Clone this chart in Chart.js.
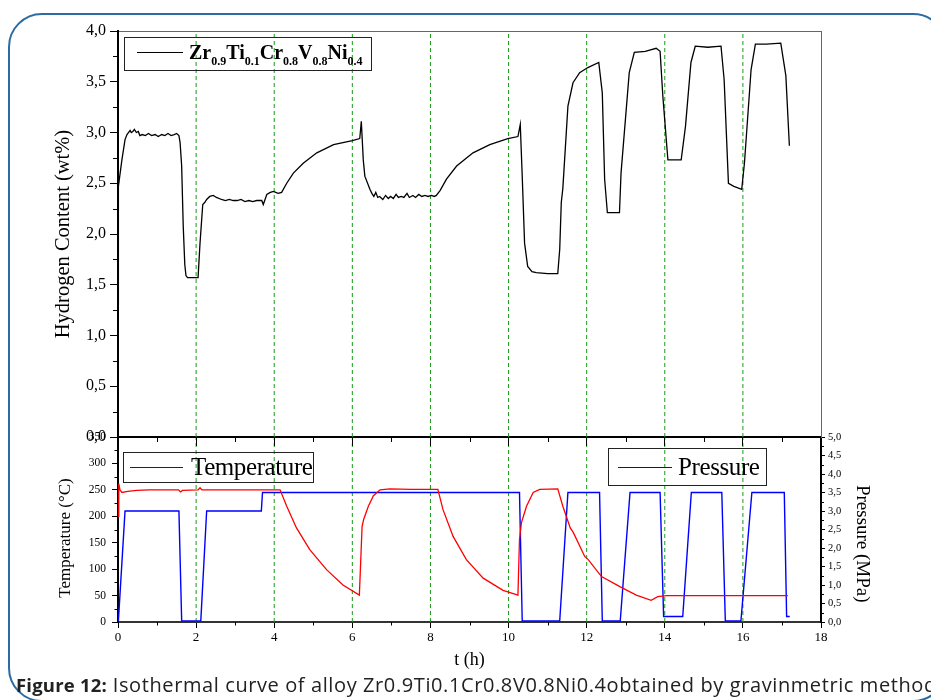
<!DOCTYPE html>
<html>
<head>
<meta charset="utf-8">
<script src="https://cdn.jsdelivr.net/npm/chart.js@4.4.0/dist/chart.umd.min.js"></script>
<style>
html,body{margin:0;padding:0;background:#fff;}
#wrap{position:relative;width:931px;height:700px;overflow:hidden;background:#fff;}
canvas{position:absolute;left:0;top:0;}
#frame{position:absolute;left:8px;top:13px;width:939px;height:689px;border:2px solid #2b6ca3;border-radius:34px;box-sizing:border-box;}
.box{position:absolute;border:1.5px solid #222;box-sizing:border-box;background:transparent;}
.ln{position:absolute;height:1px;}
.txt{position:absolute;white-space:nowrap;line-height:1;font-family:'Liberation Serif','Times New Roman',serif;color:#000;}
.txt span{font-size:12px;line-height:1;vertical-align:-6px;}
#cap{position:absolute;left:16px;top:675px;white-space:nowrap;line-height:1;font-family:'Open Sans',sans-serif;font-size:20px;letter-spacing:0.6px;color:#222;}
#cap b{font-size:18.5px;letter-spacing:0.2px;}
</style>
</head>
<body>
<div id="wrap">
  <div id="frame"></div>
  <canvas id="bot" width="931" height="700"></canvas>
  <canvas id="top" width="931" height="700"></canvas>
  <div class="box" style="left:124px;top:37px;width:248px;height:34px;"></div>
  <div class="ln" style="left:137px;top:52px;width:46px;background:#000;"></div>
  <div class="txt" style="left:189px;top:42px;font-size:20px;font-weight:bold;">Zr<span>0.9</span>Ti<span>0.1</span>Cr<span>0.8</span>V<span>0.8</span>Ni<span>0.4</span></div>
  <div class="box" style="left:123px;top:452px;width:191px;height:31px;"></div>
  <div class="ln" style="left:130px;top:467px;width:53px;background:#222;"></div>
  <div class="txt" style="left:191px;top:454px;font-size:25px;letter-spacing:-0.4px;">Temperature</div>
  <div class="box" style="left:608px;top:448px;width:159px;height:38px;"></div>
  <div class="ln" style="left:618px;top:467px;width:54px;background:#0000ff;"></div>
  <div class="txt" style="left:678px;top:454px;font-size:25px;letter-spacing:-0.4px;">Pressure</div>
  <div id="cap"><b>Figure 12:</b> Isothermal curve of alloy Zr0.9Ti0.1Cr0.8V0.8Ni0.4obtained by gravinmetric method</div>
</div>
<script>
// ---- data (time in hours) ----
const hydroT = [0,0.01,0.10,0.18,0.23,0.31,0.34,0.38,0.42,0.47,0.52,0.56,0.62,0.70,0.78,0.86,0.95,1.03,1.12,1.20,1.28,1.36,1.44,1.50,1.56,1.59,1.63,1.67,1.71,1.74,1.78,2.05,2.10,2.17,2.22,2.27,2.35,2.44,2.52,2.65,2.75,2.85,2.95,3.05,3.15,3.25,3.35,3.45,3.55,3.68,3.72,3.81,3.90,3.98,4.10,4.19,4.32,4.49,4.75,5.09,5.52,6.00,6.19,6.23,6.28,6.32,6.45,6.50,6.55,6.60,6.65,6.70,6.78,6.85,6.92,6.98,7.05,7.12,7.18,7.25,7.32,7.40,7.46,7.55,7.62,7.70,7.78,7.86,7.94,8.02,8.10,8.15,8.25,8.41,8.67,9.09,9.52,9.98,10.24,10.30,10.35,10.41,10.49,10.60,10.71,11.00,11.26,11.31,11.35,11.39,11.52,11.65,11.82,12.03,12.31,12.40,12.46,12.53,12.84,12.88,13.09,13.22,13.50,13.78,13.88,13.95,14.08,14.42,14.53,14.67,14.78,15.10,15.44,15.52,15.63,15.77,15.97,16.04,16.21,16.32,16.60,16.97,17.10,17.19];
const hydroH = [1.30,2.47,2.73,2.93,2.98,3.02,3.00,3.01,3.03,3.00,3.01,2.97,2.98,2.97,2.99,2.97,2.98,2.96,2.98,2.97,2.99,2.97,2.98,2.99,2.97,2.90,2.67,2.08,1.70,1.59,1.57,1.57,1.91,2.29,2.31,2.34,2.37,2.38,2.36,2.34,2.33,2.34,2.33,2.33,2.34,2.32,2.33,2.32,2.33,2.33,2.29,2.39,2.41,2.42,2.40,2.41,2.50,2.60,2.70,2.80,2.88,2.92,2.94,3.11,2.73,2.57,2.44,2.40,2.37,2.41,2.36,2.37,2.34,2.38,2.35,2.37,2.35,2.39,2.36,2.37,2.36,2.40,2.36,2.38,2.36,2.39,2.37,2.38,2.37,2.38,2.37,2.38,2.43,2.54,2.67,2.80,2.88,2.94,2.96,3.08,2.57,1.91,1.68,1.63,1.62,1.61,1.61,1.85,2.31,2.45,3.26,3.49,3.59,3.64,3.69,3.39,2.54,2.21,2.21,2.60,3.59,3.79,3.80,3.83,3.80,3.36,2.73,2.73,3.06,3.69,3.85,3.84,3.85,3.52,2.50,2.47,2.44,2.70,3.62,3.87,3.87,3.88,3.56,2.87];

const tempT = [0,0.02,0.05,0.10,0.25,0.48,0.80,1.20,1.55,1.60,1.65,2.05,2.10,2.15,3.00,3.80,4.15,4.32,4.57,4.91,5.34,5.76,6.18,6.25,6.29,6.41,6.54,6.71,6.96,7.50,8.19,8.32,8.58,8.92,9.35,9.86,10.24,10.28,10.33,10.46,10.63,10.80,11.26,11.39,11.58,11.66,11.95,12.04,12.38,12.85,13.27,13.65,13.82,14.04,15.00,16.00,17.15];
const tempC = [200,262,250,245,247,249,250,250,250,246,249,250,254,250,250,250,250,219,178,137,99,70,51,181,194,219,239,250,252,251,251,213,162,118,83,60,51,156,188,219,245,251,252,219,178,169,124,118,86,67,51,41,48,50,50,50,50];

const presT = [0.01,0.18,1.56,1.63,2.12,2.27,3.67,3.70,10.28,10.35,11.31,11.52,12.33,12.40,12.86,13.11,13.88,13.97,14.46,14.68,15.46,15.55,15.95,16.23,17.06,17.12,17.20];
const presP = [0.03,3.0,3.0,0.03,0.03,3.0,3.0,3.5,3.5,0.03,0.03,3.5,3.5,0.03,0.03,3.5,3.5,0.15,0.15,3.5,3.5,0.03,0.03,3.5,3.5,0.15,0.15];

const guideT = [2,4,6,8,10,12,14,16];

// tick values
const hMinor = [0.25,0.75,1.25,1.75,2.25,2.75,3.25,3.75];
const tMinor = [1,3,5,7,9,11,13,15,17];
const cMinor = [25,75,125,175,225,275,325];
const pMinor = [0.25,0.75,1.25,1.75,2.25,2.75,3.25,3.75,4.25,4.75];

// ---- helpers ----
const pts = (xs, ys) => xs.map((x, i) => ({x, y: ys[i]}));
const guides = (lo, hi) => {
  const d = [];
  guideT.forEach(t => { d.push({x:t,y:lo},{x:t,y:hi},{x:t,y:null}); });
  return d;
};
const comma1 = v => Number(v).toFixed(1).replace('.', ',');
const SERIF = "'Liberation Serif','Times New Roman',serif";
const NB = '\u00a0';

const minorTicks = {
  id: 'minorTicks',
  afterDraw(chart, args, opts) {
    const ctx = chart.ctx, ca = chart.chartArea;
    ctx.save();
    ctx.strokeStyle = '#000';
    ctx.lineWidth = 1;
    (opts.list || []).forEach(m => {
      const s = chart.scales[m.scale];
      m.values.forEach(v => {
        const p = Math.round(s.getPixelForValue(v)) + 0.5;
        ctx.beginPath();
        if (m.side === 'left') { ctx.moveTo(ca.left - m.len, p); ctx.lineTo(ca.left, p); }
        else if (m.side === 'right') { ctx.moveTo(ca.right, p); ctx.lineTo(ca.right + m.len, p); }
        else if (m.side === 'bottom') { ctx.moveTo(p, ca.bottom); ctx.lineTo(p, ca.bottom + m.len); }
        ctx.stroke();
      });
    });
    ctx.restore();
  }
};

Chart.defaults.font.family = SERIF;
Chart.defaults.color = '#000';

// ---- top chart: hydrogen content ----
new Chart(document.getElementById('top'), {
  type: 'line',
  data: {
    datasets: [
      { data: pts(hydroT, hydroH), borderColor: '#000', borderWidth: 1.3, pointRadius: 0, tension: 0, yAxisID: 'y' },
      { data: guides(0, 4), borderColor: '#1a9a1a', borderWidth: 1, borderDash: [4, 3], pointRadius: 0, spanGaps: false, yAxisID: 'y' }
    ]
  },
  options: {
    responsive: false, animation: false, devicePixelRatio: 1,
    layout: { padding: { left: 0, top: 31, right: 110, bottom: 263 } },
    plugins: { legend: { display: false }, tooltip: { enabled: false },
      minorTicks: { list: [
        { scale: 'y', side: 'left', len: 5, values: hMinor },
        { scale: 'x', side: 'bottom', len: 5, values: tMinor }
      ] } },
    scales: {
      x: { type: 'linear', position: 'bottom', min: 0, max: 18,
        ticks: { display: false, stepSize: 2 },
        grid: { display: true, drawOnChartArea: false, drawTicks: true, tickLength: 9, tickColor: '#000', tickWidth: 1 },
        border: { display: true, color: '#000', width: 2 },
        afterFit(s) { s.height = 0; } },
      xt: { type: 'linear', position: 'top', min: 0, max: 18,
        ticks: { display: false }, grid: { display: false, drawTicks: false },
        border: { display: true, color: '#666', width: 1 },
        afterFit(s) { s.height = 0; } },
      y: { type: 'linear', position: 'left', min: 0, max: 4,
        ticks: { stepSize: 0.5, padding: 4, font: { size: 16 }, color: '#000', callback: comma1 },
        grid: { display: true, drawOnChartArea: false, tickLength: 8, tickColor: '#000', tickWidth: 1 },
        border: { display: true, color: '#000', width: 2 },
        title: { display: true, text: 'Hydrogen Content (wt%)', font: { size: 20.5 }, color: '#000', padding: { top: 51.7, bottom: 0 } },
        afterFit(s) { s.width = 118; } },
      yr: { type: 'linear', position: 'right', min: 0, max: 4,
        ticks: { display: false }, grid: { display: false, drawTicks: false },
        border: { display: true, color: '#666', width: 1 },
        afterFit(s) { s.width = 0; } }
    }
  },
  plugins: [minorTicks]
});

// ---- bottom chart: temperature & pressure ----
new Chart(document.getElementById('bot'), {
  type: 'line',
  data: {
    datasets: [
      { data: pts(tempT, tempC), borderColor: '#ff0000', borderWidth: 1.3, pointRadius: 0, tension: 0, yAxisID: 'yT' },
      { data: pts(presT, presP), borderColor: '#0000ff', borderWidth: 1.4, pointRadius: 0, tension: 0, yAxisID: 'yP' },
      { data: guides(0, 350), borderColor: '#1a9a1a', borderWidth: 1, borderDash: [4, 3], pointRadius: 0, spanGaps: false, yAxisID: 'yT' }
    ]
  },
  options: {
    responsive: false, animation: false, devicePixelRatio: 1,
    layout: { padding: { left: 0, top: 437, right: 0, bottom: 0 } },
    plugins: { legend: { display: false }, tooltip: { enabled: false },
      minorTicks: { list: [
        { scale: 'yT', side: 'left', len: 3.5, values: cMinor },
        { scale: 'yP', side: 'right', len: 3, values: pMinor },
        { scale: 'x', side: 'bottom', len: 3.5, values: tMinor }
      ] } },
    scales: {
      x: { type: 'linear', position: 'bottom', min: 0, max: 18,
        ticks: { stepSize: 2, padding: 2, font: { size: 13 }, color: '#000', maxRotation: 0, autoSkip: false },
        grid: { display: true, drawOnChartArea: false, tickLength: 6, tickColor: '#000', tickWidth: 1 },
        border: { display: true, color: '#333', width: 2 },
        title: { display: true, text: 't (h)', font: { size: 18 }, color: '#000', padding: { top: 0, bottom: 28.7 } },
        afterFit(s) { s.height = 78; } },
      yT: { type: 'linear', position: 'left', min: 0, max: 350,
        ticks: { stepSize: 50, padding: 6, font: { size: 11.5 }, color: '#000' },
        grid: { display: true, drawOnChartArea: false, tickLength: 6, tickColor: '#000', tickWidth: 1 },
        border: { display: true, color: '#000', width: 2 },
        title: { display: true, text: 'Temperature (°C)' + NB.repeat(4), font: { size: 17 }, color: '#000', padding: { top: 55.8, bottom: 0 } },
        afterFit(s) { s.width = 118; } },
      yP: { type: 'linear', position: 'right', min: 0, max: 5,
        ticks: { stepSize: 0.5, padding: 3, font: { size: 10.5 }, color: '#000', callback: comma1 },
        grid: { display: true, drawOnChartArea: false, tickLength: 4, tickColor: '#000', tickWidth: 1 },
        border: { display: true, color: '#000', width: 2 },
        title: { display: true, text: NB.repeat(6) + 'Pressure (MPa)', font: { size: 19 }, color: '#000', padding: { top: 57.6, bottom: 0 } },
        afterFit(s) { s.width = 110; } }
    }
  },
  plugins: [minorTicks]
});
</script>
</body>
</html>
